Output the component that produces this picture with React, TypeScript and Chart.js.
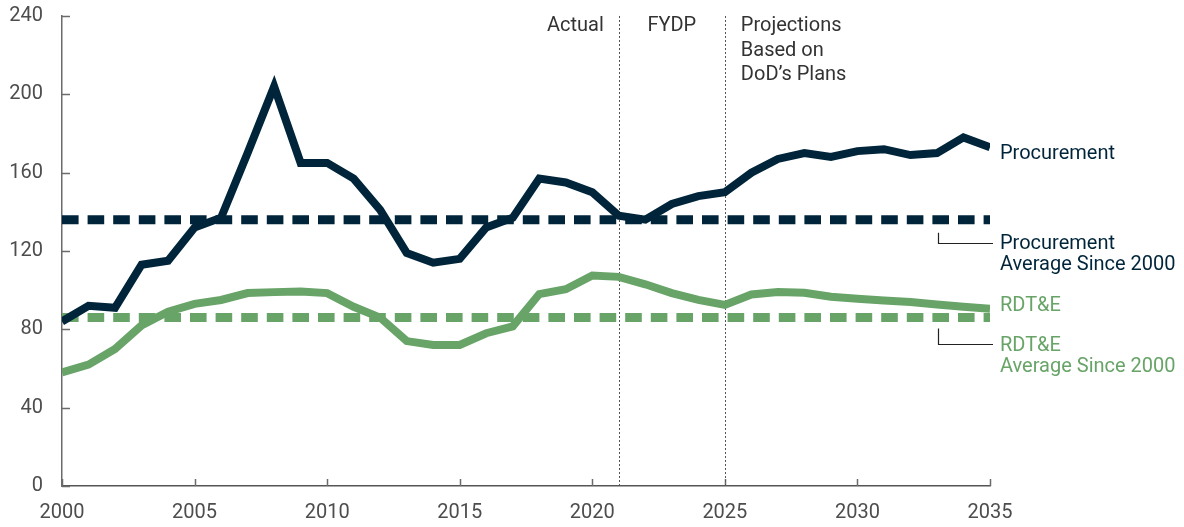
import React, { useEffect, useRef } from "react";
import { Chart, registerables } from "chart.js";

Chart.register(...registerables);

const years = [2000, 2001, 2002, 2003, 2004, 2005, 2006, 2007, 2008, 2009, 2010, 2011, 2012, 2013, 2014, 2015, 2016, 2017, 2018, 2019, 2020, 2021, 2022, 2023, 2024, 2025, 2026, 2027, 2028, 2029, 2030, 2031, 2032, 2033, 2034, 2035];
const procurement = [84, 92, 91, 113, 115, 132, 137, 170, 204, 165, 165, 157, 141, 119, 114, 116, 132, 137, 157, 155, 150, 138, 136, 144, 148, 150, 160, 167, 170, 168, 171, 172, 169, 170, 178, 173];
const rdte = [58, 62, 70, 82, 89, 93, 95, 98.5, 99, 99.3, 98.5, 91.5, 86, 74, 72, 72, 78, 81.5, 98, 100.5, 107.5, 106.8, 103, 98.5, 95, 92.5, 97.8, 99, 98.7, 96.6, 95.6, 94.7, 93.9, 92.7, 91.5, 90.5];
const procurementAverage = 136;
const rdteAverage = 86;
const periodBoundaries = [2021, 2025];
const periodLabels = ["Actual", "FYDP", "Projections\nBased on\nDoD\u2019s Plans"];
const xTicks = [2000, 2005, 2010, 2015, 2020, 2025, 2030, 2035];
const yTicks = [0, 40, 80, 120, 160, 200, 240];

const NAVY = "#00253a";
const GREEN = "#68a468";
const FONT = "Roboto, 'Noto Sans', sans-serif";

const annotationPlugin = {
  id: "annotations",
  beforeDatasetsDraw(chart: any) {
    const { ctx, chartArea, scales } = chart;
    const xs = scales.x;
    const ys = scales.y;
    ctx.save();
    // inward tick marks
    ctx.strokeStyle = "#6b6b6b";
    ctx.lineWidth = 1.5;
    yTicks.forEach((v) => {
      const y = Math.round(ys.getPixelForValue(v)) + 0.5;
      ctx.beginPath();
      ctx.moveTo(chartArea.left, y);
      ctx.lineTo(chartArea.left + 8, y);
      ctx.stroke();
    });
    xTicks.forEach((v) => {
      const x = Math.round(xs.getPixelForValue(v)) + 0.5;
      ctx.beginPath();
      ctx.moveTo(x, chartArea.bottom);
      ctx.lineTo(x, chartArea.bottom - 7);
      ctx.stroke();
    });
    // period boundaries
    ctx.strokeStyle = "#555555";
    ctx.lineWidth = 1;
    ctx.setLineDash([2, 2]);
    periodBoundaries.forEach((v) => {
      const x = Math.round(xs.getPixelForValue(v)) + 0.5;
      ctx.beginPath();
      ctx.moveTo(x, chartArea.top);
      ctx.lineTo(x, chartArea.bottom);
      ctx.stroke();
    });
    ctx.setLineDash([]);
    ctx.restore();
  },
  afterDatasetsDraw(chart: any) {
    const { ctx, chartArea, scales } = chart;
    const xs = scales.x;
    const ys = scales.y;
    const size = 20;
    const capOff = size * 0.355;
    ctx.save();
    ctx.font = `${size}px ${FONT}`;
    ctx.textBaseline = "alphabetic";
    const b0 = xs.getPixelForValue(periodBoundaries[0]);
    const b1 = xs.getPixelForValue(periodBoundaries[1]);
    const topY = chartArea.top + 8;
    const lh = 24.5;
    ctx.fillStyle = "#333333";
    ctx.textAlign = "right";
    ctx.fillText(periodLabels[0], b0 - 15, topY + capOff);
    ctx.textAlign = "center";
    ctx.fillText(periodLabels[1], (b0 + b1) / 2, topY + capOff);
    ctx.textAlign = "left";
    periodLabels[2].split("\n").forEach((line, i) => {
      ctx.fillText(line, b1 + 16, topY + i * lh + capOff);
    });

    // right labels
    const lx = chartArea.right + 10;
    const lastIdx = years.length - 1;
    ctx.textAlign = "left";
    ctx.fillStyle = NAVY;
    ctx.fillText("Procurement", lx, ys.getPixelForValue(procurement[lastIdx]) + 5 + capOff);
    const pa = ys.getPixelForValue(procurementAverage);
    ctx.fillText("Procurement", lx, pa + 22.5 + capOff);
    ctx.fillText("Average Since 2000", lx, pa + 43.5 + capOff);
    ctx.fillStyle = GREEN;
    ctx.fillText("RDT&E", lx, ys.getPixelForValue(rdte[lastIdx]) - 5 + capOff);
    const ra = ys.getPixelForValue(rdteAverage);
    ctx.fillText("RDT&E", lx, ra + 26.5 + capOff);
    ctx.fillText("Average Since 2000", lx, ra + 47.5 + capOff);

    // connectors
    const cx = Math.round(xs.getPixelForValue(2033.05)) + 0.5;
    ctx.strokeStyle = "#222222";
    ctx.lineWidth = 1.2;
    [
      [pa + 13, pa + 23.5],
      [ra + 11, ra + 26],
    ].forEach(([y0, y1]) => {
      ctx.beginPath();
      ctx.moveTo(cx, y0);
      ctx.lineTo(cx, Math.round(y1) + 0.5);
      ctx.lineTo(chartArea.right + 3, Math.round(y1) + 0.5);
      ctx.stroke();
    });
    ctx.restore();
  },
};

export default function App() {
  const ref = useRef<HTMLCanvasElement | null>(null);
  useEffect(() => {
    if (!ref.current) return;
    const pts = (arr: number[]) => years.map((yr, i) => ({ x: yr, y: arr[i] }));
    const flat = (v: number) => years.map((yr) => ({ x: yr, y: v }));
    const chart = new Chart(ref.current, {
      type: "line",
      data: {
        datasets: [
          {
            label: "Procurement",
            data: pts(procurement),
            borderColor: NAVY,
            borderWidth: 8,
            pointRadius: 0,
            tension: 0,
            borderJoinStyle: "miter",
            borderCapStyle: "butt",
          },
          {
            label: "RDT&E",
            data: pts(rdte),
            borderColor: GREEN,
            borderWidth: 8,
            pointRadius: 0,
            tension: 0,
            borderJoinStyle: "miter",
            borderCapStyle: "butt",
          },
          {
            label: "Procurement Average Since 2000",
            data: flat(procurementAverage),
            borderColor: NAVY,
            borderWidth: 9,
            borderDash: [16.6, 9],
            pointRadius: 0,
            borderCapStyle: "butt",
          },
          {
            label: "RDT&E Average Since 2000",
            data: flat(rdteAverage),
            borderColor: GREEN,
            borderWidth: 9,
            borderDash: [16.6, 9],
            pointRadius: 0,
            borderCapStyle: "butt",
          },
        ],
      },
      options: {
        responsive: false,
        animation: false,
        layout: { padding: { left: 0, top: 16, right: 194, bottom: 0 } },
        plugins: { legend: { display: false }, tooltip: { enabled: false } },
        scales: {
          x: {
            type: "linear",
            min: 2000,
            max: 2035,
            afterFit: (s: any) => {
              s.height = 41;
              s.paddingLeft = 0;
              s.paddingRight = 0;
            },
            afterBuildTicks: (s: any) => {
              s.ticks = xTicks.map((v) => ({ value: v }));
            },
            grid: { display: false, drawTicks: false },
            border: { display: true, color: "#555555", width: 1.5 },
            ticks: {
              padding: 15,
              color: "#4d4d4d",
              font: { family: FONT, size: 20 },
              callback: (v: any) => String(v),
              maxRotation: 0,
              autoSkip: false,
            },
          },
          y: {
            min: 0,
            max: 240,
            afterFit: (s: any) => {
              s.width = 62;
              s.paddingTop = 0;
              s.paddingBottom = 0;
            },
            afterBuildTicks: (s: any) => {
              s.ticks = yTicks.map((v) => ({ value: v }));
            },
            grid: { display: false, drawTicks: false },
            border: { display: true, color: "#6b6b6b", width: 1.5 },
            ticks: {
              padding: 19,
              color: "#4d4d4d",
              font: { family: FONT, size: 20 },
              callback: (v: any) => String(v),
            },
          },
        },
      },
      plugins: [annotationPlugin],
    });
    return () => chart.destroy();
  }, []);
  return (
    <div style={{ position: "fixed", left: 0, top: 0, width: 1184, height: 527, background: "#fff" }}>
      <canvas ref={ref} width={1184} height={527} style={{ display: "block" }} />
    </div>
  );
}
